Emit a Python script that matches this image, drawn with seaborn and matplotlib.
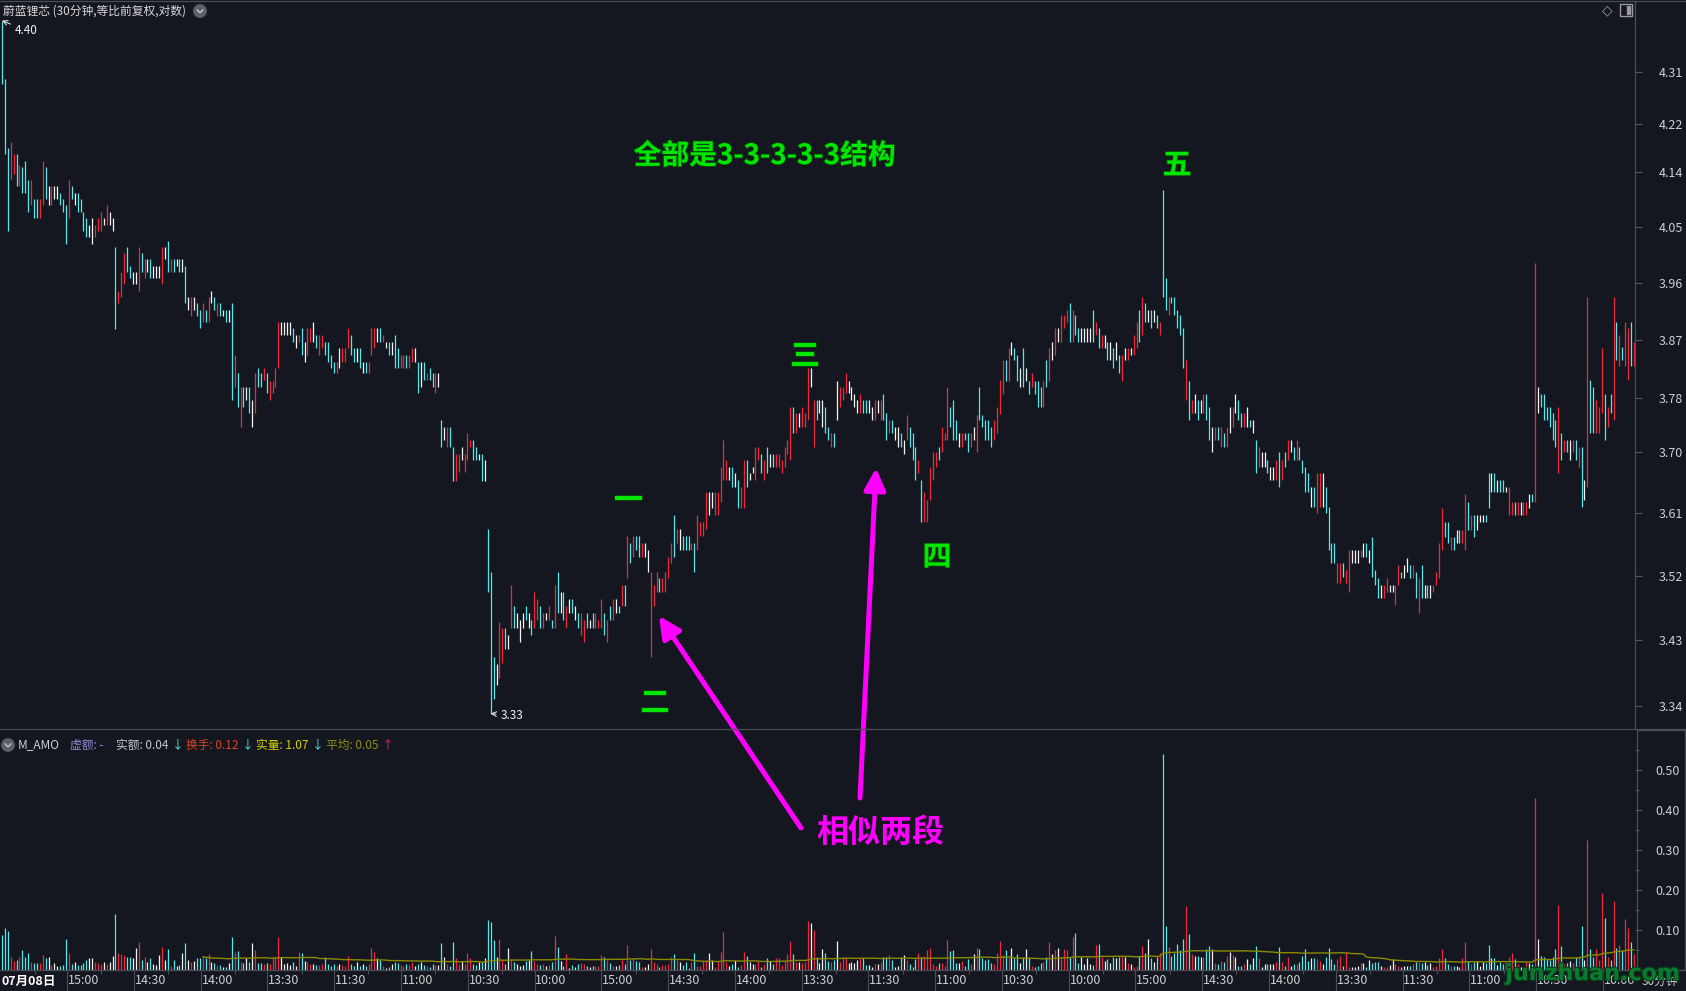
import sys
import numpy as np
import pandas as pd
import matplotlib
matplotlib.use("Agg")
import matplotlib.pyplot as plt
import matplotlib.patheffects as pe
import seaborn as sns
from matplotlib.lines import Line2D
from matplotlib.patches import Circle, FancyArrowPatch, Rectangle
from matplotlib.ticker import NullLocator, NullFormatter

W, H = 1686, 991
BG = '#14171f'
RED = '#f0283c'
CYAN = '#52e8ee'
WHITE = '#f2f2f2'
GREEN = '#00e600'
MAGENTA = '#ff00ff'
LINE = '#3c3f48'
TXT = '#cfcfcf'

# ---- bar data (30 min bars, oldest -> newest) ----
high = [4.400, 4.298, 4.180, 4.191, 4.170, 4.170, 4.152, 4.149, 4.158, 4.127,
        4.127, 4.095, 4.095, 4.095, 4.158, 4.149, 4.117, 4.117, 4.117, 4.117,
        4.105, 4.095, 4.086, 4.127, 4.117, 4.105, 4.105, 4.095, 4.074, 4.064,
        4.053, 4.064, 4.053, 4.064, 4.074, 4.064, 4.086, 4.074, 4.064,
        4.017, 3.947, 3.977, 4.007, 4.017, 3.986, 3.977, 3.977, 4.017, 4.007,
        3.998, 3.998, 3.998, 3.986, 3.986, 3.986, 4.017, 4.017, 4.027, 3.998,
        3.998, 3.998, 3.998, 3.998, 3.986, 3.937, 3.937, 3.937, 3.928, 3.917,
        3.928, 3.917, 3.937, 3.947, 3.937, 3.928, 3.928, 3.917, 3.917, 3.917,
        3.928, 3.847, 3.818, 3.797, 3.797, 3.797, 3.797, 3.778, 3.818, 3.827,
        3.818, 3.827, 3.818, 3.806, 3.806, 3.827, 3.898, 3.898, 3.898, 3.898,
        3.898, 3.888, 3.878, 3.878, 3.888, 3.867, 3.888, 3.888, 3.898, 3.878,
        3.878, 3.878, 3.867, 3.867, 3.847, 3.836, 3.836, 3.857, 3.857, 3.857,
        3.888, 3.878, 3.857, 3.857, 3.857, 3.836, 3.836, 3.836, 3.888, 3.888,
        3.888, 3.888, 3.878, 3.867, 3.867, 3.867, 3.878, 3.857, 3.847, 3.847,
        3.847, 3.847, 3.857, 3.857, 3.836, 3.836, 3.836, 3.818, 3.827, 3.818,
        3.818, 3.818, 3.747, 3.737, 3.737, 3.737, 3.707, 3.696, 3.696, 3.707,
        3.696, 3.728, 3.717, 3.717, 3.707, 3.696, 3.696, 3.688,
        3.587, 3.525, 3.407, 3.397, 3.455, 3.447, 3.447, 3.437, 3.507, 3.477,
        3.468, 3.457, 3.468, 3.477, 3.468, 3.457, 3.497, 3.487, 3.477, 3.468,
        3.468, 3.477, 3.457, 3.507, 3.525, 3.497, 3.497, 3.477, 3.487, 3.487,
        3.477, 3.468, 3.468, 3.457, 3.468, 3.457, 3.468, 3.468, 3.457, 3.487,
        3.468, 3.457, 3.477, 3.487, 3.487, 3.477, 3.507, 3.507, 3.577, 3.567,
        3.577, 3.577, 3.577, 3.567, 3.567, 3.557, 3.525, 3.507, 3.525, 3.517,
        3.517, 3.525, 3.547, 3.567, 3.607, 3.587, 3.587, 3.577, 3.577, 3.577,
        3.567, 3.567, 3.607, 3.597, 3.597, 3.640, 3.640, 3.640, 3.640, 3.640,
        3.677, 3.717, 3.688, 3.677, 3.677, 3.668, 3.658, 3.648, 3.688, 3.688,
        3.668, 3.677, 3.707, 3.707, 3.696, 3.688, 3.707, 3.696, 3.696, 3.696,
        3.696, 3.688, 3.707, 3.717, 3.767, 3.767, 3.758, 3.758, 3.767, 3.758,
        3.826, 3.826, 3.778, 3.778, 3.778, 3.778, 3.767, 3.737, 3.728, 3.728,
        3.806, 3.797, 3.797, 3.818, 3.806, 3.797, 3.787, 3.778, 3.787, 3.778,
        3.778, 3.778, 3.767, 3.778, 3.778, 3.778, 3.787, 3.758, 3.747, 3.747,
        3.737, 3.737, 3.728, 3.717, 3.755, 3.737, 3.728, 3.707, 3.688, 3.658,
        3.640, 3.629, 3.677, 3.699, 3.699, 3.707,
        3.737, 3.728, 3.797, 3.767, 3.778, 3.747, 3.728, 3.728, 3.728, 3.728,
        3.728, 3.737, 3.755, 3.797, 3.755, 3.747, 3.747, 3.737, 3.747, 3.767,
        3.808, 3.838, 3.838, 3.857, 3.867, 3.857, 3.847, 3.827, 3.857, 3.827,
        3.806, 3.818, 3.806, 3.806, 3.797, 3.806, 3.838, 3.857, 3.867, 3.888,
        3.888, 3.909, 3.909, 3.917, 3.928, 3.917, 3.909, 3.888, 3.888, 3.888,
        3.888, 3.888, 3.917, 3.898, 3.888, 3.878, 3.878, 3.867, 3.867, 3.857,
        3.867, 3.847, 3.847, 3.857, 3.857, 3.857, 3.878, 3.898, 3.917, 3.937,
        3.928, 3.917, 3.917, 3.917, 3.909, 3.898, 4.110, 3.967, 3.937, 3.937,
        3.937, 3.917, 3.909, 3.888, 3.838, 3.806, 3.778, 3.787, 3.778, 3.778,
        3.787, 3.787, 3.767, 3.737, 3.737, 3.737, 3.737, 3.728, 3.737, 3.767,
        3.767, 3.787, 3.778, 3.758, 3.758, 3.767, 3.747, 3.747, 3.717, 3.707,
        3.699, 3.699, 3.688, 3.677, 3.677, 3.688, 3.699, 3.688, 3.699, 3.717,
        3.717, 3.707, 3.717, 3.707, 3.688, 3.677, 3.668, 3.648, 3.648, 3.668,
        3.668, 3.668, 3.648, 3.619, 3.567, 3.567, 3.538, 3.538, 3.538, 3.528,
        3.557, 3.557, 3.557, 3.557, 3.557, 3.567, 3.567, 3.557, 3.575, 3.528,
        3.517, 3.507, 3.507, 3.517, 3.507, 3.507, 3.507, 3.535, 3.525, 3.535,
        3.545, 3.535, 3.535, 3.525, 3.517, 3.535, 3.507, 3.507, 3.507, 3.507,
        3.525, 3.567, 3.617, 3.596, 3.596, 3.575, 3.575, 3.585, 3.585, 3.585,
        3.638, 3.626, 3.607, 3.607, 3.607, 3.607, 3.607, 3.607, 3.668, 3.668,
        3.668, 3.658, 3.658, 3.658, 3.648, 3.648, 3.626, 3.626, 3.626, 3.626,
        3.626, 3.626, 3.638, 3.638, 3.991, 3.797, 3.787, 3.787, 3.767, 3.767,
        3.758, 3.747, 3.767, 3.728, 3.717, 3.717, 3.717, 3.717, 3.717, 3.707,
        3.707, 3.658, 3.937, 3.808, 3.797, 3.778, 3.767, 3.857, 3.787, 3.767,
        3.787, 3.937, 3.898, 3.878, 3.859, 3.898, 3.889, 3.898, 3.867]

low = [4.289, 4.170, 4.043, 4.129, 4.137, 4.117, 4.117, 4.105, 4.105, 4.074,
       4.086, 4.064, 4.064, 4.064, 4.086, 4.095, 4.086, 4.086, 4.095, 4.095,
       4.086, 4.074, 4.022, 4.064, 4.095, 4.086, 4.074, 4.074, 4.043, 4.033,
       4.033, 4.022, 4.033, 4.043, 4.043, 4.053, 4.053, 4.053, 4.043,
       3.887, 3.928, 3.937, 3.958, 3.977, 3.967, 3.958, 3.958, 3.947, 3.977,
       3.967, 3.977, 3.967, 3.967, 3.967, 3.967, 3.958, 3.998, 3.977, 3.977,
       3.977, 3.986, 3.977, 3.977, 3.928, 3.917, 3.908, 3.917, 3.908, 3.888,
       3.898, 3.898, 3.898, 3.928, 3.917, 3.908, 3.908, 3.908, 3.898, 3.898,
       3.778, 3.797, 3.767, 3.737, 3.767, 3.778, 3.758, 3.737, 3.758, 3.797,
       3.797, 3.808, 3.788, 3.778, 3.788, 3.797, 3.827, 3.878, 3.878, 3.878,
       3.878, 3.867, 3.857, 3.867, 3.847, 3.836, 3.847, 3.867, 3.867, 3.857,
       3.847, 3.857, 3.847, 3.836, 3.827, 3.818, 3.818, 3.827, 3.836, 3.836,
       3.857, 3.847, 3.836, 3.836, 3.827, 3.818, 3.818, 3.818, 3.847, 3.857,
       3.867, 3.867, 3.867, 3.857, 3.847, 3.847, 3.827, 3.827, 3.827, 3.827,
       3.827, 3.827, 3.836, 3.836, 3.788, 3.797, 3.808, 3.808, 3.808, 3.797,
       3.788, 3.797, 3.707, 3.717, 3.707, 3.707, 3.657, 3.657, 3.670, 3.688,
       3.670, 3.688, 3.707, 3.688, 3.688, 3.688, 3.657, 3.657,
       3.497, 3.330, 3.349, 3.369, 3.378, 3.399, 3.417, 3.417, 3.447, 3.447,
       3.447, 3.427, 3.447, 3.457, 3.447, 3.437, 3.447, 3.457, 3.447, 3.447,
       3.457, 3.457, 3.447, 3.447, 3.468, 3.468, 3.457, 3.447, 3.468, 3.468,
       3.457, 3.447, 3.437, 3.427, 3.447, 3.447, 3.447, 3.447, 3.447, 3.447,
       3.437, 3.427, 3.457, 3.457, 3.468, 3.468, 3.477, 3.477, 3.517, 3.538,
       3.547, 3.557, 3.547, 3.547, 3.547, 3.525, 3.407, 3.477, 3.497, 3.497,
       3.497, 3.497, 3.517, 3.538, 3.547, 3.567, 3.557, 3.557, 3.557, 3.557,
       3.557, 3.525, 3.557, 3.577, 3.577, 3.587, 3.607, 3.617, 3.607, 3.607,
       3.626, 3.658, 3.658, 3.658, 3.648, 3.648, 3.617, 3.617, 3.617, 3.648,
       3.658, 3.668, 3.658, 3.688, 3.668, 3.658, 3.668, 3.677, 3.677, 3.677,
       3.677, 3.668, 3.677, 3.696, 3.688, 3.728, 3.728, 3.737, 3.737, 3.737,
       3.747, 3.797, 3.707, 3.747, 3.758, 3.737, 3.728, 3.717, 3.707, 3.707,
       3.747, 3.767, 3.778, 3.788, 3.788, 3.778, 3.767, 3.758, 3.758, 3.758,
       3.758, 3.758, 3.747, 3.747, 3.758, 3.747, 3.747, 3.717, 3.728, 3.728,
       3.717, 3.707, 3.707, 3.697, 3.717, 3.707, 3.688, 3.658, 3.668, 3.597,
       3.597, 3.597, 3.629, 3.658, 3.677, 3.688,
       3.699, 3.717, 3.717, 3.737, 3.717, 3.717, 3.707, 3.707, 3.717, 3.699,
       3.707, 3.717, 3.699, 3.747, 3.737, 3.717, 3.717, 3.707, 3.717, 3.728,
       3.757, 3.787, 3.806, 3.806, 3.847, 3.838, 3.806, 3.797, 3.797, 3.806,
       3.787, 3.797, 3.787, 3.767, 3.767, 3.767, 3.797, 3.806, 3.838, 3.847,
       3.867, 3.867, 3.888, 3.898, 3.867, 3.867, 3.878, 3.867, 3.867, 3.867,
       3.867, 3.867, 3.867, 3.878, 3.857, 3.857, 3.857, 3.838, 3.838, 3.827,
       3.838, 3.818, 3.806, 3.838, 3.838, 3.847, 3.847, 3.857, 3.867, 3.878,
       3.898, 3.898, 3.888, 3.898, 3.888, 3.878, 3.937, 3.917, 3.909, 3.928,
       3.909, 3.888, 3.878, 3.827, 3.778, 3.747, 3.758, 3.758, 3.747, 3.758,
       3.758, 3.747, 3.717, 3.699, 3.717, 3.717, 3.707, 3.707, 3.707, 3.728,
       3.737, 3.758, 3.747, 3.737, 3.737, 3.737, 3.737, 3.728, 3.668, 3.677,
       3.677, 3.677, 3.668, 3.658, 3.658, 3.658, 3.648, 3.658, 3.677, 3.688,
       3.699, 3.688, 3.688, 3.688, 3.668, 3.640, 3.640, 3.619, 3.619, 3.610,
       3.619, 3.619, 3.610, 3.557, 3.538, 3.538, 3.510, 3.510, 3.518, 3.510,
       3.497, 3.538, 3.538, 3.538, 3.547, 3.547, 3.547, 3.538, 3.518, 3.507,
       3.489, 3.489, 3.489, 3.497, 3.497, 3.497, 3.479, 3.507, 3.517, 3.517,
       3.525, 3.517, 3.517, 3.489, 3.468, 3.489, 3.489, 3.489, 3.489, 3.497,
       3.507, 3.517, 3.557, 3.575, 3.567, 3.557, 3.557, 3.567, 3.567, 3.567,
       3.557, 3.585, 3.585, 3.575, 3.585, 3.596, 3.596, 3.596, 3.617, 3.640,
       3.640, 3.640, 3.640, 3.640, 3.640, 3.607, 3.607, 3.607, 3.607, 3.607,
       3.607, 3.607, 3.617, 3.626, 3.626, 3.758, 3.767, 3.747, 3.747, 3.737,
       3.717, 3.707, 3.668, 3.688, 3.699, 3.699, 3.688, 3.699, 3.688, 3.677,
       3.619, 3.629, 3.648, 3.728, 3.728, 3.728, 3.728, 3.758, 3.717, 3.737,
       3.758, 3.747, 3.839, 3.829, 3.839, 3.829, 3.808, 3.829, 3.829]

# r = up (red), c = down (cyan), w = flat (white)
kind = ("cccrrcrccc" "rccrrcwrww" "cccrcwcccc" "wwrrrwrww"
        "crrrccwwrc" "rwcwwwrwcr" "cwcwcwrwcc" "rcrwcrcwcw" "crcrcwcwrc"
        "crcrrrrwww" "wcwrcwrrwc" "rrccccrwrr" "rccwcwcrrr" "wcrwcwccrr"
        "crrwcwcrcc" "rwcwrccrrw" "rrrccwcw"
        "cccwrrcwrc" "wwwcwcrrcr" "wrcrcwcrwc" "wcrrcwcrrr" "crcrwcrcrc"
        "rccrwwrrrc" "rrrrcrwccc" "rcrrrrwwrr" "rrrwcwcrrc" "wwrrcrcwcr"
        "rrrrrcrwrr" "rwrcwwccrc" "wrrrwwwwrc" "cwwrwrccrc" "wwcwrcccrc"
        "rrrrrc"
        "rrrcccwrcc" "rwrcccccrr" "rrcrwccwcw" "crcccrcrwr" "wrrrcrccww"
        "wwcrcrwcwc" "wcrwrwrrcr" "cwcwcrccrc" "ccccrcrwcw" "rccwrcrcrw"
        "rwccrwcwcr" "wwcwwrcrcr" "wcrccccwcr" "rwccccrrcr" "rwwwrwcwcc"
        "cwrrwwrrcw" "wcrcrcwcwr" "rrrccrcwcr" "rcrcwwwccw" "cwccwrrcrw"
        "rrwcrwcccc" "ccrcrcwrcr" "cwrccrrrcr" "crcrcrrcr")

# volume (M_AMO, 实额)
vol = [0.088, 0.106, 0.098, 0.033, 0.022, 0.025, 0.033, 0.050, 0.033, 0.042,
       0.020, 0.017, 0.018, 0.017, 0.037, 0.029, 0.032, 0.013, 0.017, 0.011,
       0.011, 0.013, 0.078, 0.042, 0.014, 0.021, 0.013, 0.013, 0.017, 0.025,
       0.029, 0.029, 0.021, 0.017, 0.014, 0.019, 0.014, 0.019, 0.036, 0.140,
       0.043, 0.039, 0.038, 0.032, 0.032, 0.029, 0.056, 0.069, 0.025, 0.032,
       0.019, 0.029, 0.014, 0.013, 0.038, 0.057, 0.025, 0.052, 0.011, 0.025,
       0.011, 0.013, 0.042, 0.068, 0.025, 0.021, 0.023, 0.029, 0.029, 0.032,
       0.029, 0.040, 0.021, 0.017, 0.013, 0.013, 0.008, 0.008, 0.018, 0.083,
       0.046, 0.047, 0.021, 0.017, 0.029, 0.019, 0.068, 0.050, 0.017, 0.018,
       0.014, 0.017, 0.014, 0.032, 0.032, 0.083, 0.032, 0.015, 0.017, 0.013,
       0.019, 0.011, 0.046, 0.042, 0.023, 0.019, 0.014, 0.014, 0.013, 0.012,
       0.014, 0.032, 0.014, 0.011, 0.014, 0.011, 0.014, 0.013, 0.011, 0.036,
       0.014, 0.011, 0.019, 0.011, 0.014, 0.011, 0.014, 0.055, 0.046, 0.029,
       0.025, 0.011, 0.006, 0.008, 0.014, 0.021, 0.017, 0.013, 0.011, 0.015,
       0.013, 0.021, 0.011, 0.014, 0.019, 0.013, 0.011, 0.008, 0.014, 0.013,
       0.013, 0.068, 0.033, 0.014, 0.011, 0.071, 0.031, 0.014, 0.023, 0.015,
       0.043, 0.029, 0.014, 0.013, 0.021, 0.019, 0.029, 0.125, 0.120, 0.075,
       0.032, 0.078, 0.025, 0.014, 0.055, 0.027, 0.019, 0.014, 0.011, 0.013,
       0.023, 0.025, 0.048, 0.023, 0.014, 0.013, 0.014, 0.011, 0.013, 0.020,
       0.085, 0.058, 0.023, 0.011, 0.039, 0.006, 0.013, 0.008, 0.014, 0.018,
       0.014, 0.010, 0.008, 0.011, 0.011, 0.011, 0.038, 0.033, 0.025, 0.017,
       0.011, 0.011, 0.013, 0.029, 0.016, 0.063, 0.025, 0.029, 0.023, 0.019,
       0.008, 0.008, 0.014, 0.053, 0.019, 0.016, 0.008, 0.013, 0.013, 0.015,
       0.032, 0.039, 0.026, 0.019, 0.013, 0.021, 0.006, 0.021, 0.043, 0.011,
       0.010, 0.025, 0.025, 0.042, 0.025, 0.008, 0.023, 0.046, 0.096, 0.019,
       0.011, 0.014, 0.025, 0.008, 0.013, 0.044, 0.035, 0.019, 0.016, 0.014,
       0.023, 0.008, 0.014, 0.031, 0.023, 0.014, 0.029, 0.031, 0.013, 0.023,
       0.039, 0.073, 0.039, 0.019, 0.019, 0.017, 0.019, 0.123, 0.118, 0.101,
       0.032, 0.017, 0.052, 0.043, 0.023, 0.019, 0.025, 0.073, 0.021, 0.032,
       0.033, 0.017, 0.021, 0.017, 0.025, 0.029, 0.029, 0.013, 0.013, 0.008,
       0.014, 0.014, 0.021, 0.032, 0.032, 0.038, 0.025, 0.008, 0.011, 0.032,
       0.038, 0.024, 0.014, 0.008, 0.028, 0.043, 0.032, 0.036, 0.049, 0.056,
       0.016, 0.011, 0.017, 0.017, 0.011, 0.075, 0.048, 0.049, 0.017, 0.017,
       0.023, 0.011, 0.027, 0.014, 0.039, 0.056, 0.053, 0.029, 0.025, 0.027,
       0.017, 0.014, 0.042, 0.073, 0.038, 0.050, 0.032, 0.054, 0.029, 0.039,
       0.017, 0.032, 0.053, 0.032, 0.011, 0.008, 0.011, 0.017, 0.019, 0.033,
       0.071, 0.039, 0.050, 0.054, 0.032, 0.053, 0.051, 0.033, 0.083, 0.092,
       0.017, 0.032, 0.014, 0.029, 0.014, 0.013, 0.063, 0.064, 0.033, 0.023,
       0.028, 0.017, 0.032, 0.029, 0.033, 0.036, 0.033, 0.017, 0.014, 0.008,
       0.011, 0.036, 0.061, 0.042, 0.078, 0.031, 0.019, 0.033, 0.043, 0.540,
       0.110, 0.058, 0.035, 0.042, 0.065, 0.050, 0.078, 0.160, 0.090, 0.039,
       0.036, 0.036, 0.032, 0.032, 0.052, 0.061, 0.052, 0.018, 0.014, 0.023,
       0.019, 0.036, 0.046, 0.038, 0.032, 0.011, 0.011, 0.014, 0.027, 0.014,
       0.029, 0.061, 0.029, 0.008, 0.014, 0.014, 0.014, 0.014, 0.021, 0.058,
       0.021, 0.011, 0.033, 0.011, 0.014, 0.014, 0.019, 0.036, 0.053, 0.023,
       0.031, 0.031, 0.027, 0.023, 0.014, 0.032, 0.056, 0.027, 0.014, 0.027,
       0.036, 0.011, 0.044, 0.008, 0.008, 0.008, 0.011, 0.017, 0.017, 0.008,
       0.025, 0.017, 0.019, 0.019, 0.011, 0.008, 0.008, 0.013, 0.027, 0.014,
       0.011, 0.007, 0.011, 0.011, 0.011, 0.014, 0.019, 0.021, 0.017, 0.021,
       0.013, 0.017, 0.007, 0.011, 0.029, 0.052, 0.029, 0.014, 0.011, 0.011,
       0.011, 0.008, 0.029, 0.071, 0.023, 0.014, 0.019, 0.023, 0.011, 0.019,
       0.017, 0.063, 0.031, 0.029, 0.013, 0.019, 0.014, 0.019, 0.033, 0.042,
       0.028, 0.014, 0.007, 0.011, 0.019, 0.017, 0.015, 0.430, 0.078, 0.036,
       0.032, 0.027, 0.025, 0.032, 0.053, 0.163, 0.061, 0.014, 0.017, 0.023,
       0.017, 0.032, 0.036, 0.110, 0.025, 0.326, 0.053, 0.032, 0.053, 0.025,
       0.193, 0.131, 0.033, 0.025, 0.173, 0.056, 0.063, 0.050, 0.128, 0.106,
       0.071, 0.041]

price_ticks = [3.34, 3.43, 3.52, 3.61, 3.70, 3.78, 3.87, 3.96, 4.05, 4.14, 4.22, 4.31]
vol_ticks = [0.10, 0.20, 0.30, 0.40, 0.50]
time_labels = ['15:00', '14:30', '14:00', '13:30', '11:30', '11:00', '10:30', '10:00'] * 3

sns.set_theme(style='dark', rc={'axes.facecolor': BG, 'figure.facecolor': BG,
                                'axes.edgecolor': LINE, 'text.color': TXT,
                                'xtick.color': TXT, 'ytick.color': TXT})
plt.rcParams['font.family'] = ['Noto Sans CJK SC', 'DejaVu Sans']
plt.rcParams['axes.unicode_minus'] = False

n = min(len(high), len(low), len(kind), len(vol))
if not (len(high) == len(low) == len(kind) == len(vol)):
    print('length mismatch', len(high), len(low), len(kind), len(vol), file=sys.stderr)

df = pd.DataFrame({'idx': np.arange(n), 'high': high[:n], 'low': low[:n],
                   'kind': list(kind[:n]), 'vol': vol[:n]})
df['color'] = df['kind'].map({'r': RED, 'c': CYAN, 'w': WHITE})
df['avg'] = df['vol'].rolling(70).mean()


def fx(x):
    return x / W


def fy(y):
    return 1 - y / H


fig = plt.figure(figsize=(W / 100, H / 100), dpi=100, facecolor=BG)
ax = fig.add_axes([0, fy(729), fx(1635), (729 - 1) / H])
axv = fig.add_axes([0, fy(970), fx(1635), (970 - 730) / H])

xlim = (-0.6875, 561.36)

# ---- price panel ----
ax.set_facecolor(BG)
ax.vlines(df['idx'], df['low'], df['high'], colors=df['color'], lw=0.9)
ax.set_yscale('log')
ax.set_ylim(3.3094, 4.4348)
ax.set_xlim(*xlim)
ax.set_yticks(price_ticks)
ax.set_yticklabels(['%.2f' % v for v in price_ticks])
ax.yaxis.set_minor_locator(NullLocator())
ax.yaxis.set_minor_formatter(NullFormatter())
ax.yaxis.tick_right()
ax.tick_params(axis='y', which='major', direction='out', length=5, width=0.8,
               color='#55585f', labelcolor=TXT, labelsize=9, pad=12)
ax.set_xticks([])
for s in ['left', 'bottom', 'top']:
    ax.spines[s].set_visible(False)
ax.spines['right'].set_color('#4a4d55')
ax.spines['right'].set_linewidth(0.9)

imax = int(np.argmax(df['high']))
imin = int(np.argmin(df['low']))
ax.annotate('%.2f' % df['high'][imax], xy=(imax, df['high'][imax]), xytext=(13, -10),
            textcoords='offset pixels', color=WHITE, fontsize=8.5, va='center', ha='left',
            arrowprops=dict(arrowstyle='->', color=WHITE, lw=0.7, shrinkA=1, shrinkB=0))
ax.annotate('%.2f' % df['low'][imin], xy=(imin, df['low'][imin]), xytext=(10, -2),
            textcoords='offset pixels', color=WHITE, fontsize=8.5, va='center', ha='left',
            arrowprops=dict(arrowstyle='->', color=WHITE, lw=0.7, shrinkA=1, shrinkB=0))

# ---- volume panel ----
axv.set_facecolor(BG)
axv.vlines(df['idx'], 0, df['vol'], colors=df['color'], lw=0.9)
sns.lineplot(data=df.dropna(subset=['avg']), x='idx', y='avg', ax=axv,
             color='#8a8a00', lw=1.0, legend=False)
axv.set_xlabel('')
axv.set_ylabel('')
axv.set_xlim(*xlim)
axv.set_ylim(0, 0.6)
axv.yaxis.tick_right()
axv.set_yticks(vol_ticks)
axv.set_yticklabels(['%.2f' % v for v in vol_ticks])
axv.set_yticks([0.05, 0.15, 0.25, 0.35, 0.45, 0.55], minor=True)
axv.tick_params(axis='y', which='major', direction='out', length=5, width=0.8,
                color='#55585f', labelcolor=TXT, labelsize=9, pad=10)
axv.tick_params(axis='y', which='minor', direction='out', length=3, width=0.8,
                color='#55585f')
for s in axv.spines.values():
    s.set_visible(False)

tick_pos = 22.69 + 22.953 * np.arange(len(time_labels))
axv.set_xticks(tick_pos)
axv.set_xticklabels(time_labels, ha='left', fontsize=9, color=TXT)
axv.tick_params(axis='x', which='major', length=0, pad=3)
axv.vlines(tick_pos - 0.3, -0.0875, 0, transform=axv.get_xaxis_transform(), clip_on=False,
           color='#4a4d55', lw=0.8)
axv.vlines(tick_pos - 11.48, -0.017, 0, transform=axv.get_xaxis_transform(), clip_on=False,
           color='#4a4d55', lw=0.8)

# ---- frame lines ----
for y in (0.5, 729, 970):
    fig.add_artist(Line2D([0, 1], [fy(y), fy(y)], transform=fig.transFigure,
                          color='#4a4d55', lw=0.9))
fig.add_artist(Rectangle((fx(1637), fy(970)), fx(1685) - fx(1637), fy(730) - fy(970),
                         transform=fig.transFigure, fill=False, ec='#4a4d55', lw=0.9))

# ---- header texts ----
fig.text(fx(3), fy(11), '蔚蓝锂芯 (30分钟,等比前复权,对数)', color='#d8d8d8',
         fontsize=8.5, va='center', ha='left')


def chevron_icon(x, y):
    fig.add_artist(Circle((x / 100, (H - y) / 100), 0.062, transform=fig.dpi_scale_trans,
                          color='#5c5f66'))
    fig.add_artist(Line2D([(x - 3) / 100, x / 100, (x + 3) / 100],
                          [(H - y + 1.2) / 100, (H - y - 1.8) / 100, (H - y + 1.2) / 100],
                          transform=fig.dpi_scale_trans, color='#c8c8c8', lw=1.0))


chevron_icon(200, 11)
chevron_icon(8, 745)

fig.text(fx(1607), fy(10), '◇', color='#9a9a9a', fontsize=10, va='center', ha='center',
         family='DejaVu Sans')
fig.add_artist(Rectangle((fx(1620), fy(16)), fx(12), 12 / H, transform=fig.transFigure,
                         fill=False, ec='#9a9a9a', lw=1.0))
fig.add_artist(Rectangle((fx(1627), fy(14)), fx(3), 8 / H, transform=fig.transFigure,
                         color='#9a9a9a'))

header = [(18, 'M_AMO', '#d0d0d0'), (70, '虚额: -', '#8c8cd2'),
          (116, '实额: 0.04', '#c8c8c8'), (172, '↓', CYAN),
          (186, '换手: 0.12', '#d8461e'), (242, '↓', CYAN),
          (256, '实量: 1.07', '#d2d200'), (312, '↓', CYAN),
          (326, '平均: 0.05', '#8e8e10'), (382, '↑', RED)]
for x, t, c in header:
    fig.text(fx(x), fy(745), t, color=c, fontsize=8.5, va='center', ha='left')

fig.text(fx(2), fy(981), '07月08日', color='white', fontsize=9, va='center', ha='left',
         fontweight='bold')
fig.text(fx(1642), fy(981), '30分钟', color=TXT, fontsize=8.5, va='center', ha='left')
fig.text(fx(1593), fy(974), 'junzhuan.com', color='#0b7a30', fontsize=16,
         fontweight='heavy', va='center', ha='center', family='DejaVu Sans',
         path_effects=[pe.withStroke(linewidth=1.5, foreground='#053a16')])

# ---- annotations ----
green_fx = [pe.withStroke(linewidth=1.2, foreground='#0a4a0a')]
fig.text(fx(765), fy(156), '全部是3-3-3-3-3结构', color=GREEN, fontsize=20, fontweight='bold',
         va='center', ha='center', path_effects=green_fx)
for x, y, t in [(628, 500, '一'), (655, 703, '二'), (805, 356, '三'),
                (937, 557, '四'), (1177, 165, '五')]:
    fig.text(fx(x), fy(y), t, color=GREEN, fontsize=21, fontweight='bold',
             va='center', ha='center', path_effects=green_fx)

fig.text(fx(880), fy(833), '相似两段', color=MAGENTA, fontsize=23, fontweight='bold',
         va='center', ha='center')
for tail, tip in [((801, 828), (659, 616)), ((860, 798), (876, 468))]:
    arr = FancyArrowPatch((fx(tail[0]), fy(tail[1])), (fx(tip[0]), fy(tip[1])),
                          transform=fig.transFigure,
                          arrowstyle='-|>,head_length=0.65,head_width=0.32',
                          mutation_scale=20, lw=3.6, color=MAGENTA,
                          shrinkA=0, shrinkB=0, capstyle='round')
    fig.add_artist(arr)

fig.savefig('out.png', dpi=100, facecolor=BG)
